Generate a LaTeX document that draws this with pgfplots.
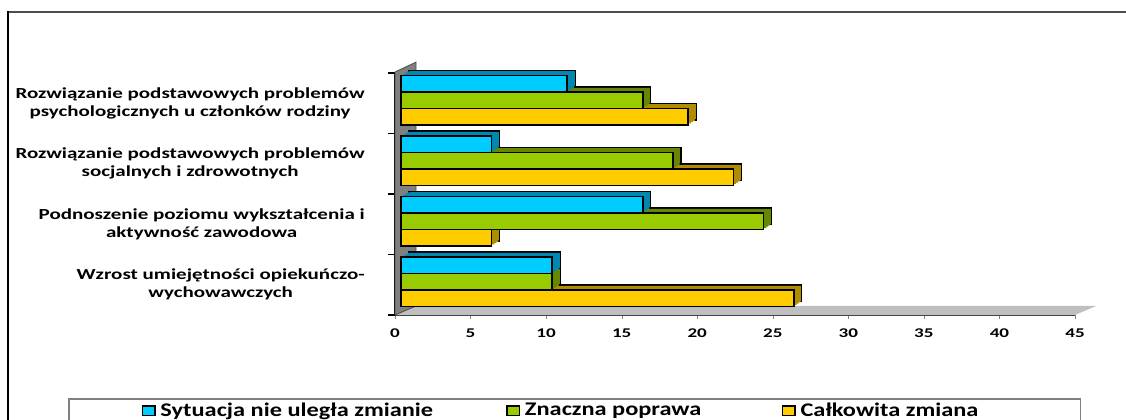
\documentclass[border=0pt]{standalone}
\usepackage{pgfplots}
\pgfplotsset{compat=1.18}
\usepackage{pgfplotstable}
\usepackage{fontspec}
\setmainfont{Carlito}
\newfontfamily\catfont{Carlito}[FakeStretch=1.37]
\newfontfamily\tickfont{Carlito}[FakeStretch=1.43]
\newfontfamily\legfont{Carlito}[FakeStretch=1.26]

\definecolor{cyanF}{HTML}{00CCFF}
\definecolor{cyanD}{HTML}{0088B0}
\definecolor{greenF}{HTML}{99CC00}
\definecolor{greenD}{HTML}{668800}
\definecolor{yellF}{HTML}{FFCC00}
\definecolor{yellD}{HTML}{B08C00}

% pos 0 = bottom category
\pgfplotstableread{
pos cyan green yellow
0   10   10    26
1   16   24    6
2   6    18    22
3   11   16    19
}\data

% #1 column, #2 offset in category, #3 front colour, #4 side colour
\newcommand{\bars}[4]{%
  \addplot[xbar, bar shift=0pt, bar width=0.273, fill=#4, draw=black, line width=0.9pt,
    xshift=10.5pt, yshift=3.75pt, forget plot] table[x=#1, y expr=\thisrow{pos}+#2] {\data};
  \addplot[xbar, bar shift=0pt, bar width=0.273, fill=#4, draw=none,
    xshift=9.5pt, yshift=3.1pt, forget plot] table[x=#1, y expr=\thisrow{pos}+#2] {\data};
  \addplot[xbar, bar shift=0pt, bar width=0.273, fill=#4, draw=none,
    xshift=8pt, yshift=2.2pt, forget plot] table[x=#1, y expr=\thisrow{pos}+#2] {\data};
  \addplot[xbar, bar shift=0pt, bar width=0.273, fill=#4, draw=none,
    xshift=6.5pt, yshift=1.25pt, forget plot] table[x=#1, y expr=\thisrow{pos}+#2] {\data};
  \addplot[xbar, bar shift=0pt, bar width=0.273, fill=#3, draw=black, line width=1.15pt,
    xshift=4.5pt, forget plot] table[x=#1, y expr=\thisrow{pos}+#2] {\data};
}

\begin{document}
\begin{tikzpicture}
\useasboundingbox (0,0) rectangle (844.5pt,314.25pt);
\draw[line width=1.5pt, black!70] (6pt,305.25pt) -- (850pt,305.25pt);
\draw[line width=1.2pt] (6pt,305.8pt) -- (6pt,-5pt);
\begin{axis}[
  at={(296.25pt,78pt)}, anchor=south west,
  scale only axis, width=510pt, height=181.5pt,
  xmin=0, xmax=45, ymin=0, ymax=4,
  clip=false,
  axis x line*=bottom, axis y line*=left,
  x axis line style={line width=1.4pt, black!80},
  y axis line style={line width=1.4pt, black},
  tick align=outside,
  xtick={0,5,...,45},
  major tick length=3pt,
  ytick={0.5,1.5,2.5,3.5},
  ytick style={draw=none},
  yticklabels={{Wzrost umiejętności opiekuńczo-\\wychowawczych},
               {Podnoszenie poziomu wykształcenia i\\aktywność zawodowa},
               {Rozwiązanie podstawowych problemów\\socjalnych i zdrowotnych},
               {Rozwiązanie podstawowych problemów\\psychologicznych u członków rodziny}},
  extra y ticks={0,1,2,3,4},
  extra y tick labels={},
  extra y tick style={ytick style={draw=black, line width=0.8pt}, major tick length=5.25pt},
  /pgf/number format/assume math mode=true,
  xticklabel style={font=\tickfont\bfseries\fontsize{10}{12}\selectfont, inner sep=0pt, yshift=-7pt},
  yticklabel style={font=\catfont\bfseries\fontsize{11.5}{13.5}\selectfont, align=center, inner sep=0pt, xshift=-19.5pt},
  legend columns=3,
  legend image code/.code={
    \draw[#1, draw=black, line width=1.2pt] (0.6pt,-3.6pt) rectangle (10pt,3.6pt);
    \path (0pt,0pt) (13.5pt,0pt);
  },
  legend style={at={(axis description cs:-0.4809,-0.343)}, anchor=north west,
    draw=black!50, line width=1.2pt, inner xsep=54pt, inner ysep=3pt,
    column sep=0pt, nodes={inner sep=0pt},
    font=\legfont\bfseries\fontsize{14.5}{17}\selectfont},
  legend cell align=left,
]
% floor and back wall
\addplot[fill=black!25, draw=none, forget plot] coordinates {(0,0) (45,0) (46.39,0.149) (1.39,0.149)} -- cycle;
\addplot[fill=black!50, draw=black!70, line width=0.6pt, forget plot] coordinates {(0,0) (1.39,0.149) (1.39,4.18) (0,4.017)} -- cycle;

\bars{yellow}{0.277}{yellF}{yellD}
\bars{green}{0.55}{greenF}{greenD}
\bars{cyan}{0.823}{cyanF}{cyanD}

\addlegendimage{fill=cyanF}
\addlegendentry{\makebox[258.75pt][l]{Sytuacja nie uległa zmianie}}
\addlegendimage{fill=greenF}
\addlegendentry{\makebox[192pt][l]{Znaczna poprawa}}
\addlegendimage{fill=yellF}
\addlegendentry{\makebox[156pt][l]{Całkowita zmiana}}
\end{axis}
\end{tikzpicture}
\end{document}
